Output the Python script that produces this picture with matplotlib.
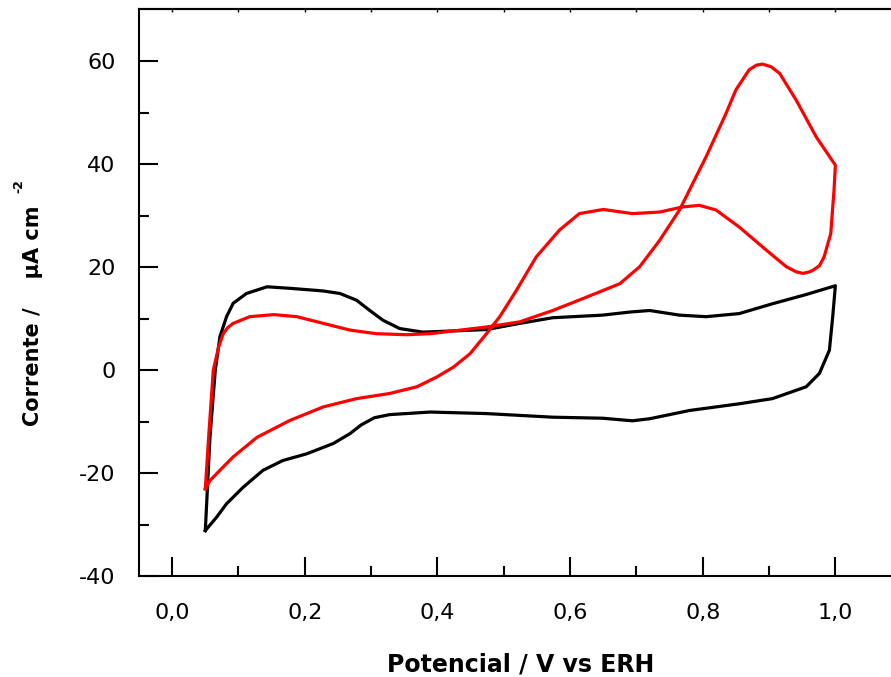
#!/usr/bin/env python3
"""Cyclic voltammogram: two CV loops (black and red)."""

import matplotlib

matplotlib.use("Agg")
import matplotlib.pyplot as plt
from matplotlib.ticker import FixedLocator, FuncFormatter

# black loop: anodic sweep then cathodic sweep (V vs ERH, uA cm-2)
black_anodic_v = [0.050, 0.057, 0.065, 0.072, 0.082, 0.092, 0.112, 0.143, 0.178,
                  0.227, 0.253, 0.278, 0.298, 0.318, 0.343, 0.378, 0.474, 0.524,
                  0.574, 0.649, 0.690, 0.720, 0.765, 0.805, 0.855, 0.905, 0.956, 1.000]
black_anodic_i = [-31.1, -13.0, 0.0, 6.5, 10.4, 13.0, 14.9, 16.2, 15.9,
                  15.4, 14.9, 13.6, 11.6, 9.7, 8.1, 7.4, 7.9, 9.1,
                  10.2, 10.7, 11.3, 11.6, 10.7, 10.4, 11.0, 12.9, 14.7, 16.4]
black_cathodic_v = [1.000, 0.996, 0.991, 0.976, 0.956, 0.905, 0.855, 0.780, 0.720,
                    0.694, 0.649, 0.574, 0.474, 0.389, 0.328, 0.305, 0.285, 0.268,
                    0.243, 0.203, 0.167, 0.137, 0.107, 0.082, 0.067, 0.050]
black_cathodic_i = [16.4, 10.4, 3.9, -0.6, -3.2, -5.5, -6.5, -7.8, -9.4,
                    -9.8, -9.3, -9.1, -8.4, -8.1, -8.6, -9.2, -10.6, -12.3,
                    -14.2, -16.2, -17.5, -19.4, -22.7, -25.9, -28.5, -31.1]

# red loop
red_anodic_v = [0.050, 0.055, 0.062, 0.070, 0.077, 0.084, 0.092, 0.117, 0.153,
                0.188, 0.228, 0.268, 0.308, 0.353, 0.389, 0.474, 0.524, 0.574,
                0.625, 0.675, 0.705, 0.735, 0.765, 0.805, 0.835, 0.850, 0.870,
                0.881, 0.890, 0.903, 0.916, 0.941, 0.971, 1.000]
red_anodic_i = [-23.0, -13.0, 0.0, 4.5, 7.1, 8.3, 9.1, 10.4, 10.8,
                10.4, 9.1, 7.8, 7.1, 6.9, 7.1, 8.4, 9.4, 11.6,
                14.2, 16.8, 20.1, 25.2, 31.1, 41.4, 49.8, 54.4, 58.3,
                59.2, 59.4, 58.9, 57.6, 52.4, 45.3, 39.8]
red_cathodic_v = [1.000, 0.998, 0.993, 0.983, 0.976, 0.966, 0.961, 0.951, 0.941,
                  0.926, 0.896, 0.855, 0.820, 0.795, 0.770, 0.735, 0.694, 0.650,
                  0.614, 0.584, 0.549, 0.519, 0.494, 0.474, 0.449, 0.424, 0.399,
                  0.369, 0.328, 0.278, 0.228, 0.178, 0.128, 0.092, 0.072, 0.057,
                  0.050]
red_cathodic_i = [39.8, 35.0, 26.5, 22.0, 20.3, 19.4, 19.1, 18.8, 19.1,
                  20.1, 23.3, 27.8, 31.1, 32.0, 31.7, 30.7, 30.4, 31.2,
                  30.4, 27.2, 22.0, 15.5, 10.4, 7.1, 3.2, 0.6, -1.3,
                  -3.2, -4.5, -5.5, -7.1, -9.7, -13.0, -16.8, -19.4, -21.4,
                  -23.0]

x_major = [0.0, 0.2, 0.4, 0.6, 0.8, 1.0]
x_minor = [0.1, 0.3, 0.5, 0.7, 0.9]
y_major = [-40, -20, 0, 20, 40, 60]
y_minor = [-30, -10, 10, 30, 50]

plt.rcParams["font.family"] = ["DejaVu Sans"]

fig = plt.figure(figsize=(8.91, 6.77), dpi=100)
ax = fig.add_axes([0.156, 0.1485, 0.856, 0.8375])

ax.plot(black_anodic_v + black_cathodic_v, black_anodic_i + black_cathodic_i,
        color="black", linewidth=2.3, solid_joinstyle="round")
ax.plot(red_anodic_v + red_cathodic_v, red_anodic_i + red_cathodic_i,
        color="#FF0000", linewidth=2.3, solid_joinstyle="round")

ax.set_xlim(-0.05, 1.1)
ax.set_ylim(-40, 70)

ax.xaxis.set_major_locator(FixedLocator(x_major))
ax.xaxis.set_minor_locator(FixedLocator(x_minor))
ax.yaxis.set_major_locator(FixedLocator(y_major))
ax.yaxis.set_minor_locator(FixedLocator(y_minor))
ax.xaxis.set_major_formatter(FuncFormatter(lambda v, _: f"{v:.1f}".replace(".", ",")))
ax.yaxis.set_major_formatter(FuncFormatter(lambda v, _: f"{v:.0f}"))

for side in ["left", "bottom", "top", "right"]:
    ax.spines[side].set_linewidth(1.5)

ax.tick_params(which="major", direction="in", length=14, width=1.5,
               labelsize=16)
ax.tick_params(which="minor", direction="in", length=7, width=1.5)
ax.tick_params(axis="x", which="major", pad=19)
ax.tick_params(axis="y", which="major", pad=17)

top = ax.secondary_xaxis("top")
top.xaxis.set_major_locator(FixedLocator(x_major + x_minor))
top.tick_params(direction="in", length=2, width=1.0, labeltop=False)
top.spines["top"].set_linewidth(1.5)

ax.set_xlabel("Potencial / V vs ERH", fontsize=17, fontweight="bold", labelpad=21)

fig.text(33 / 891, 1 - 316 / 677, "Corrente /    µA cm", rotation=90,
         fontsize=15, fontweight="bold", ha="center", va="center")
fig.text(19 / 891, 1 - 186 / 677, "-2", rotation=90,
         fontsize=9, fontweight="bold", ha="center", va="center")

fig.savefig("out.png", dpi=100)
